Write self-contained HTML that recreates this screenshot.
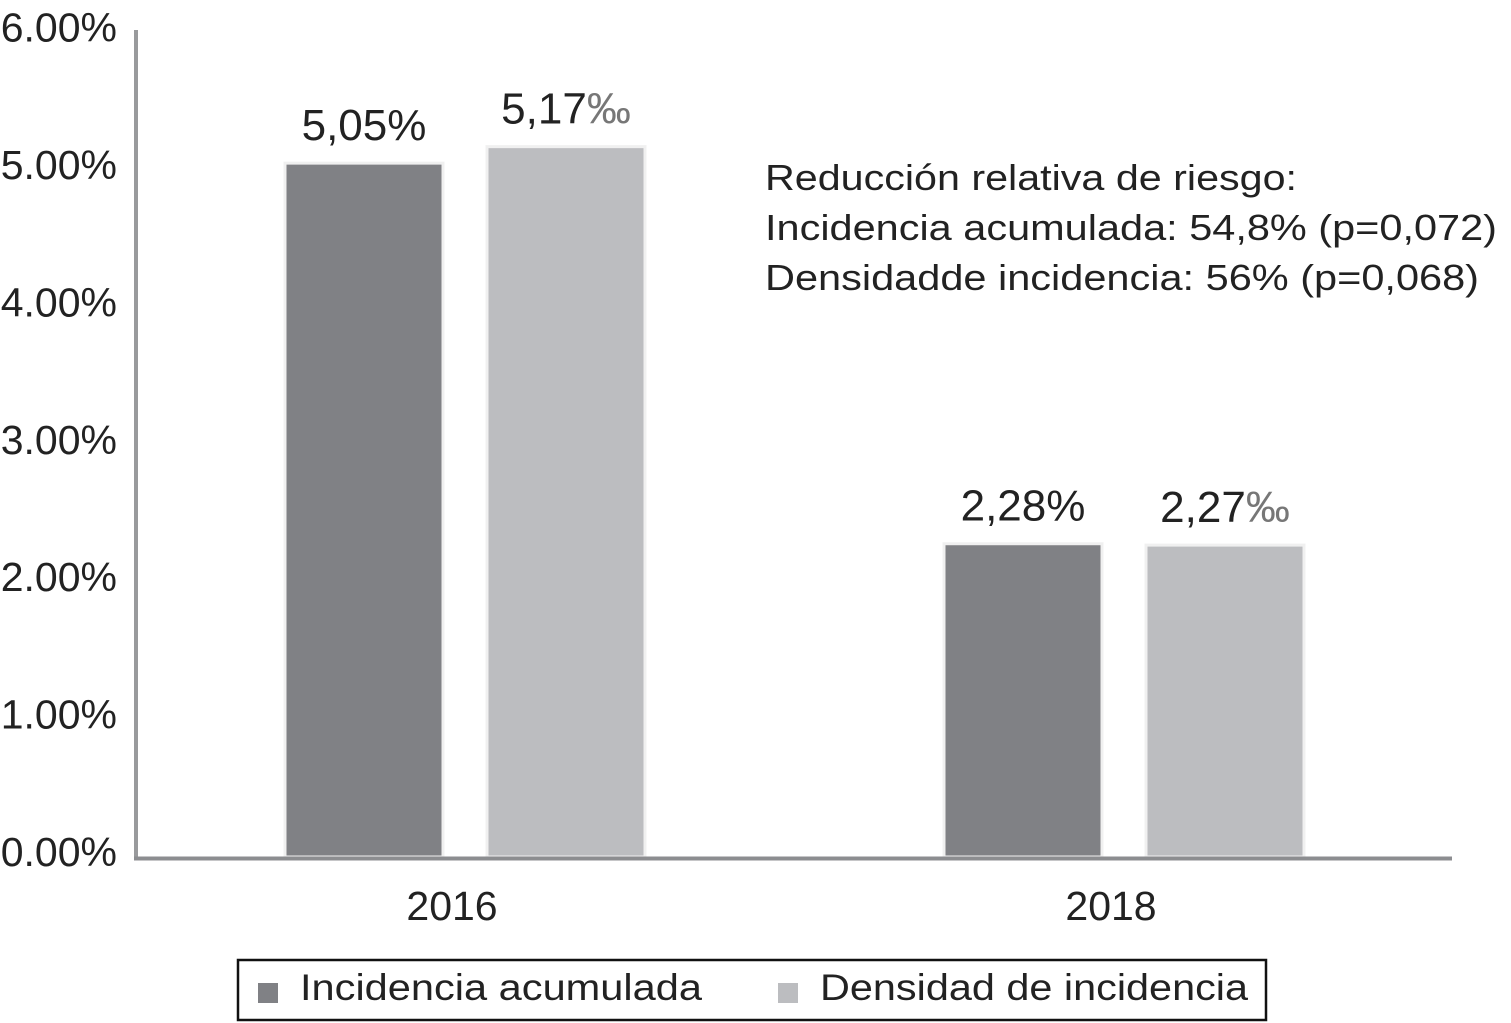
<!DOCTYPE html>
<html><head><meta charset="utf-8"><style>
html,body{margin:0;padding:0;background:#fff;}
svg{display:block;font-family:"Liberation Sans",Arial,sans-serif;}
</style></head><body>
<svg id="chart" width="1511" height="1023" viewBox="0 0 1511 1023" xmlns="http://www.w3.org/2000/svg">
<g id="yticks"></g>
<g id="bars"></g>
<g id="vlabels"></g>
<line x1="136" y1="30" x2="136" y2="859" stroke="#999a9c" stroke-width="4"/>
<line x1="134" y1="858.5" x2="1452" y2="858.5" stroke="#8c8d90" stroke-width="4"/>
<g id="xlabels"></g>
<g font-size="36" fill="#222">
<text x="765" y="190" textLength="532" lengthAdjust="spacingAndGlyphs">Reducción relativa de riesgo:</text>
<text x="765" y="240" textLength="732" lengthAdjust="spacingAndGlyphs">Incidencia acumulada: 54,8% (p=0,072)</text>
<text x="765" y="290" textLength="714" lengthAdjust="spacingAndGlyphs">Densidadde incidencia: 56% (p=0,068)</text>
</g>
<g>
<rect x="238" y="960" width="1028" height="60" fill="#fff" stroke="#111" stroke-width="2.5"/>
<rect x="258" y="983" width="20" height="20" fill="#808185"/>
<text x="300" y="1000" font-size="37" fill="#222" textLength="402" lengthAdjust="spacingAndGlyphs">Incidencia acumulada</text>
<rect x="778" y="983" width="20" height="20" fill="#bcbdc0"/>
<text x="820" y="1000" font-size="37" fill="#222" textLength="428" lengthAdjust="spacingAndGlyphs">Densidad de incidencia</text>
</g>
</svg>
<script>
const categories = ["2016", "2018"];
const seriesNames = ["Incidencia acumulada", "Densidad de incidencia"];
const incidencia = [5.05, 2.28];
const densidad = [5.17, 2.27];
const valueNumbers = [["5,05", "5,17"], ["2,28", "2,27"]];
const valueUnits = ["%", "‰"];
const yTicks = [0, 1, 2, 3, 4, 5, 6];
const yTickLabels = ["0.00%", "1.00%", "2.00%", "3.00%", "4.00%", "5.00%", "6.00%"];

const NS = "http://www.w3.org/2000/svg";
const y0 = 857, pxPerUnit = 137.4;
function yScale(v){ return y0 - v * pxPerUnit; }
const groupCenters = [465, 1124];
function xScale(i){ return groupCenters[i]; }
const barW = 158, gap = 44;
const colors = ["#808185", "#bcbdc0"];
function mk(tag, attrs){ const e = document.createElementNS(NS, tag); for (const k in attrs) e.setAttribute(k, attrs[k]); return e; }

const gy = document.getElementById("yticks");
yTicks.forEach((t, i) => {
  const el = mk("text", {x: 117, y: yScale(t) + 9, "text-anchor": "end", "font-size": 41, fill: "#222"});
  
  
  el.textContent = yTickLabels[i];
  gy.appendChild(el);
});

const gb = document.getElementById("bars"), gv = document.getElementById("vlabels"), gx = document.getElementById("xlabels");
const series = [incidencia, densidad];
categories.forEach((c, i) => {
  series.forEach((s, j) => {
    const cx = xScale(i) + (j === 0 ? -(gap / 2 + barW / 2) : (gap / 2 + barW / 2));
    const top = yScale(s[i]);
    const r = mk("rect", {x: cx - barW / 2, y: top, width: barW, height: y0 - top, fill: colors[j], stroke: "#f0f0f0", "stroke-width": 3});
    
    
    gb.appendChild(r);
    const t = mk("text", {x: cx, y: top - 23, "text-anchor": "middle", "font-size": 44, fill: "#222"});
    
    
    t.appendChild(document.createTextNode(valueNumbers[i][j]));
    const u = mk("tspan", {fill: j === 0 ? "#222" : "#777"});
    u.textContent = valueUnits[j];
    t.appendChild(u);
    gv.appendChild(t);
  });
  const xl = mk("text", {x: xScale(i) - 13, y: 920, "text-anchor": "middle", "font-size": 41, fill: "#222"});
  
  
  xl.textContent = c;
  gx.appendChild(xl);
});
</script>
</body></html>
